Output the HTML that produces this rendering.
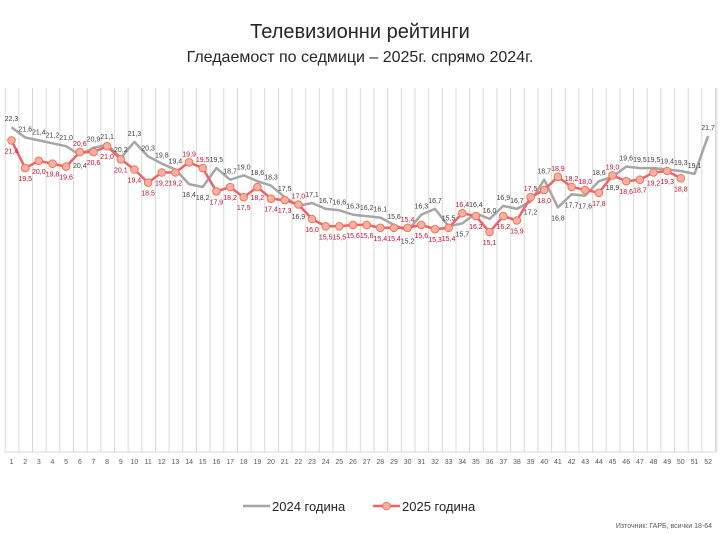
<!DOCTYPE html>
<html><head><meta charset="utf-8"><style>
html,body{margin:0;padding:0;background:#fff;}
svg{display:block;font-family:"Liberation Sans",sans-serif;}
.g{fill:#404040;font-size:7px;text-anchor:middle;}
.r{fill:#c0102c;font-size:7px;text-anchor:middle;}
.t{fill:#595959;font-size:7px;text-anchor:middle;}
</style></head><body>
<svg width="720" height="540" viewBox="0 0 720 540" xmlns="http://www.w3.org/2000/svg">
<defs>
<pattern id="gp" patternUnits="userSpaceOnUse" x="4.7" y="88" width="13.66" height="364">
<line x1="0.5" y1="0" x2="0.5" y2="364" stroke="#d9d9d9" stroke-width="1"/>
</pattern>
</defs>
<text x="360" y="38" text-anchor="middle" font-size="20" fill="#262626">Телевизионни рейтинги</text>
<text x="360" y="62" text-anchor="middle" font-size="16" fill="#262626">Гледаемост по седмици – 2025г. спрямо 2024г.</text>
<rect x="4" y="88" width="713" height="364" fill="url(#gp)"/>
<line x1="716.8" y1="88" x2="716.8" y2="452" stroke="#d9d9d9"/>
<line x1="4.7" y1="452" x2="716.8" y2="452" stroke="#d9d9d9"/>
<polyline fill="none" stroke="#a6a6a6" stroke-width="2.5" stroke-linejoin="round" points="11.5,127.3 25.2,137.5 38.8,140.4 52.5,143.3 66.1,146.2 79.8,155 93.5,147.7 107.1,144.8 120.8,157.9 134.4,141.9 148.1,156.4 161.8,163.7 175.4,169.5 189.1,184.1 202.7,187 216.4,168.1 230.1,179.7 243.7,175.4 257.4,181.2 271,185.6 284.7,197.2 298.4,205.9 312,203 325.7,208.9 339.3,210.3 353,214.7 366.7,216.1 380.3,217.6 394,224.9 407.6,230.7 421.3,214.7 435,208.9 448.6,226.3 462.3,223.4 475.9,213.2 489.6,219 503.3,205.9 516.9,208.9 530.6,201.6 544.2,179.7 557.9,207.4 571.6,194.3 585.2,195.7 598.9,181.2 612.5,176.8 626.2,166.6 639.9,168.1 653.5,168.1 667.2,169.5 680.8,171 694.5,173.9 708.1,136"/>
<polyline fill="none" stroke="#f0606e" stroke-width="2.5" stroke-linejoin="round" points="11.5,140.4 25.2,168.1 38.8,160.8 52.5,163.7 66.1,166.6 79.8,152.1 93.5,152.1 107.1,146.2 120.8,159.3 134.4,169.5 148.1,182.6 161.8,172.5 175.4,172.5 189.1,162.3 202.7,168.1 216.4,191.4 230.1,187 243.7,197.2 257.4,187 271,198.7 284.7,200.1 298.4,204.5 312,219 325.7,226.3 339.3,226.3 353,224.9 366.7,224.9 380.3,227.8 394,227.8 407.6,227.8 421.3,224.9 435,229.2 448.6,227.8 462.3,213.2 475.9,216.1 489.6,232.1 503.3,216.1 516.9,220.5 530.6,197.2 544.2,189.9 557.9,176.8 571.6,187 585.2,189.9 598.9,192.8 612.5,175.4 626.2,181.2 639.9,179.7 653.5,172.5 667.2,171 680.8,178.3"/>
<g fill="#f8aeb0" stroke="#f07a3a" stroke-width="1">
<circle cx="11.5" cy="140.4" r="3.8"/><circle cx="25.2" cy="168.1" r="3.8"/><circle cx="38.8" cy="160.8" r="3.8"/><circle cx="52.5" cy="163.7" r="3.8"/><circle cx="66.1" cy="166.6" r="3.8"/><circle cx="79.8" cy="152.1" r="3.8"/><circle cx="93.5" cy="152.1" r="3.8"/><circle cx="107.1" cy="146.2" r="3.8"/><circle cx="120.8" cy="159.3" r="3.8"/><circle cx="134.4" cy="169.5" r="3.8"/><circle cx="148.1" cy="182.6" r="3.8"/><circle cx="161.8" cy="172.5" r="3.8"/><circle cx="175.4" cy="172.5" r="3.8"/><circle cx="189.1" cy="162.3" r="3.8"/><circle cx="202.7" cy="168.1" r="3.8"/><circle cx="216.4" cy="191.4" r="3.8"/><circle cx="230.1" cy="187" r="3.8"/><circle cx="243.7" cy="197.2" r="3.8"/><circle cx="257.4" cy="187" r="3.8"/><circle cx="271" cy="198.7" r="3.8"/><circle cx="284.7" cy="200.1" r="3.8"/><circle cx="298.4" cy="204.5" r="3.8"/><circle cx="312" cy="219" r="3.8"/><circle cx="325.7" cy="226.3" r="3.8"/><circle cx="339.3" cy="226.3" r="3.8"/><circle cx="353" cy="224.9" r="3.8"/><circle cx="366.7" cy="224.9" r="3.8"/><circle cx="380.3" cy="227.8" r="3.8"/><circle cx="394" cy="227.8" r="3.8"/><circle cx="407.6" cy="227.8" r="3.8"/><circle cx="421.3" cy="224.9" r="3.8"/><circle cx="435" cy="229.2" r="3.8"/><circle cx="448.6" cy="227.8" r="3.8"/><circle cx="462.3" cy="213.2" r="3.8"/><circle cx="475.9" cy="216.1" r="3.8"/><circle cx="489.6" cy="232.1" r="3.8"/><circle cx="503.3" cy="216.1" r="3.8"/><circle cx="516.9" cy="220.5" r="3.8"/><circle cx="530.6" cy="197.2" r="3.8"/><circle cx="544.2" cy="189.9" r="3.8"/><circle cx="557.9" cy="176.8" r="3.8"/><circle cx="571.6" cy="187" r="3.8"/><circle cx="585.2" cy="189.9" r="3.8"/><circle cx="598.9" cy="192.8" r="3.8"/><circle cx="612.5" cy="175.4" r="3.8"/><circle cx="626.2" cy="181.2" r="3.8"/><circle cx="639.9" cy="179.7" r="3.8"/><circle cx="653.5" cy="172.5" r="3.8"/><circle cx="667.2" cy="171" r="3.8"/><circle cx="680.8" cy="178.3" r="3.8"/>
</g>
<g class="g">
<text x="11.5" y="121">22,3</text><text x="25.2" y="131.5">21,6</text><text x="38.8" y="134.4">21,4</text><text x="52.5" y="137.3">21,2</text><text x="66.1" y="140.2">21,0</text><text x="79.8" y="168">20,4</text><text x="93.5" y="141.7">20,9</text><text x="107.1" y="138.8">21,1</text><text x="120.8" y="151.9">20,2</text><text x="134.4" y="135.9">21,3</text><text x="148.1" y="150.4">20,3</text><text x="161.8" y="157.7">19,8</text><text x="175.4" y="163.5">19,4</text><text x="189.1" y="197">18,4</text><text x="202.7" y="200">18,2</text><text x="216.4" y="162">19,5</text><text x="230.1" y="173.7">18,7</text><text x="243.7" y="169.4">19,0</text><text x="257.4" y="175.2">18,6</text><text x="271" y="179.6">18,3</text><text x="284.7" y="191.2">17,5</text><text x="298.4" y="219">16,9</text><text x="312" y="197">17,1</text><text x="325.7" y="202.9">16,7</text><text x="339.3" y="204.3">16,6</text><text x="353" y="208.7">16,3</text><text x="366.7" y="210.1">16,2</text><text x="380.3" y="211.6">16,1</text><text x="394" y="218.9">15,6</text><text x="407.6" y="243.7">15,2</text><text x="421.3" y="208.7">16,3</text><text x="435" y="202.9">16,7</text><text x="448.6" y="220.3">15,5</text><text x="462.3" y="236.4">15,7</text><text x="475.9" y="207.2">16,4</text><text x="489.6" y="213">16,0</text><text x="503.3" y="199.9">16,9</text><text x="516.9" y="202.9">16,7</text><text x="530.6" y="214.6">17,2</text><text x="544.2" y="173.7">18,7</text><text x="557.9" y="220.4">16,8</text><text x="571.6" y="207.3">17,7</text><text x="585.2" y="208.7">17,6</text><text x="598.9" y="175.2">18,6</text><text x="612.5" y="189.8">18,9</text><text x="626.2" y="160.6">19,6</text><text x="639.9" y="162.1">19,5</text><text x="653.5" y="162.1">19,5</text><text x="667.2" y="163.5">19,4</text><text x="680.8" y="165">19,3</text><text x="694.5" y="167.9">19,1</text><text x="708.1" y="130">21,7</text>
</g>
<g class="r">
<text x="11.5" y="153.4">21,4</text><text x="25.2" y="181.1">19,5</text><text x="38.8" y="173.8">20,0</text><text x="52.5" y="176.7">19,8</text><text x="66.1" y="179.6">19,6</text><text x="79.8" y="146.1">20,6</text><text x="93.5" y="165.1">20,6</text><text x="107.1" y="159.2">21,0</text><text x="120.8" y="172.3">20,1</text><text x="134.4" y="182.5">19,4</text><text x="148.1" y="195.6">18,5</text><text x="161.8" y="185.5">19,2</text><text x="175.4" y="185.5">19,2</text><text x="189.1" y="156.3">19,9</text><text x="202.7" y="162.1">19,5</text><text x="216.4" y="204.4">17,9</text><text x="230.1" y="200">18,2</text><text x="243.7" y="210.2">17,5</text><text x="257.4" y="200">18,2</text><text x="271" y="211.7">17,4</text><text x="284.7" y="213.1">17,3</text><text x="298.4" y="198.5">17,0</text><text x="312" y="232">16,0</text><text x="325.7" y="239.3">15,5</text><text x="339.3" y="239.3">15,5</text><text x="353" y="237.9">15,6</text><text x="366.7" y="237.9">15,6</text><text x="380.3" y="240.8">15,4</text><text x="394" y="240.8">15,4</text><text x="407.6" y="221.8">15,4</text><text x="421.3" y="237.9">15,6</text><text x="435" y="242.2">15,3</text><text x="448.6" y="240.8">15,4</text><text x="462.3" y="207.2">16,4</text><text x="475.9" y="229.1">16,2</text><text x="489.6" y="245.1">15,1</text><text x="503.3" y="229.1">16,2</text><text x="516.9" y="233.5">15,9</text><text x="530.6" y="191.2">17,5</text><text x="544.2" y="202.9">18,0</text><text x="557.9" y="170.8">18,9</text><text x="571.6" y="181">18,2</text><text x="585.2" y="183.9">18,0</text><text x="598.9" y="205.8">17,8</text><text x="612.5" y="169.4">19,0</text><text x="626.2" y="194.2">18,6</text><text x="639.9" y="192.7">18,7</text><text x="653.5" y="185.5">19,2</text><text x="667.2" y="184">19,3</text><text x="680.8" y="191.3">18,8</text>
</g>
<g class="t">
<text x="11.5" y="464">1</text><text x="25.2" y="464">2</text><text x="38.8" y="464">3</text><text x="52.5" y="464">4</text><text x="66.1" y="464">5</text><text x="79.8" y="464">6</text><text x="93.5" y="464">7</text><text x="107.1" y="464">8</text><text x="120.8" y="464">9</text><text x="134.4" y="464">10</text><text x="148.1" y="464">11</text><text x="161.8" y="464">12</text><text x="175.4" y="464">13</text><text x="189.1" y="464">14</text><text x="202.7" y="464">15</text><text x="216.4" y="464">16</text><text x="230.1" y="464">17</text><text x="243.7" y="464">18</text><text x="257.4" y="464">19</text><text x="271" y="464">20</text><text x="284.7" y="464">21</text><text x="298.4" y="464">22</text><text x="312" y="464">23</text><text x="325.7" y="464">24</text><text x="339.3" y="464">25</text><text x="353" y="464">26</text><text x="366.7" y="464">27</text><text x="380.3" y="464">28</text><text x="394" y="464">29</text><text x="407.6" y="464">30</text><text x="421.3" y="464">31</text><text x="435" y="464">32</text><text x="448.6" y="464">33</text><text x="462.3" y="464">34</text><text x="475.9" y="464">35</text><text x="489.6" y="464">36</text><text x="503.3" y="464">37</text><text x="516.9" y="464">38</text><text x="530.6" y="464">39</text><text x="544.2" y="464">40</text><text x="557.9" y="464">41</text><text x="571.6" y="464">42</text><text x="585.2" y="464">43</text><text x="598.9" y="464">44</text><text x="612.5" y="464">45</text><text x="626.2" y="464">46</text><text x="639.9" y="464">47</text><text x="653.5" y="464">48</text><text x="667.2" y="464">49</text><text x="680.8" y="464">50</text><text x="694.5" y="464">51</text><text x="708.1" y="464">52</text>
</g>
<line x1="243" y1="506" x2="270" y2="506" stroke="#a6a6a6" stroke-width="2.5"/>
<text x="272" y="511" font-size="13" fill="#262626">2024 година</text>
<line x1="373" y1="506" x2="400" y2="506" stroke="#f0606e" stroke-width="2.5"/>
<circle cx="386.5" cy="506" r="3.8" fill="#f8aeb0" stroke="#f07a3a" stroke-width="1"/>
<text x="402" y="511" font-size="13" fill="#262626">2025 година</text>
<text x="712" y="528" font-size="7" fill="#595959" text-anchor="end">Източник: ГАРБ, всички 18-64</text>
</svg>
</body></html>
